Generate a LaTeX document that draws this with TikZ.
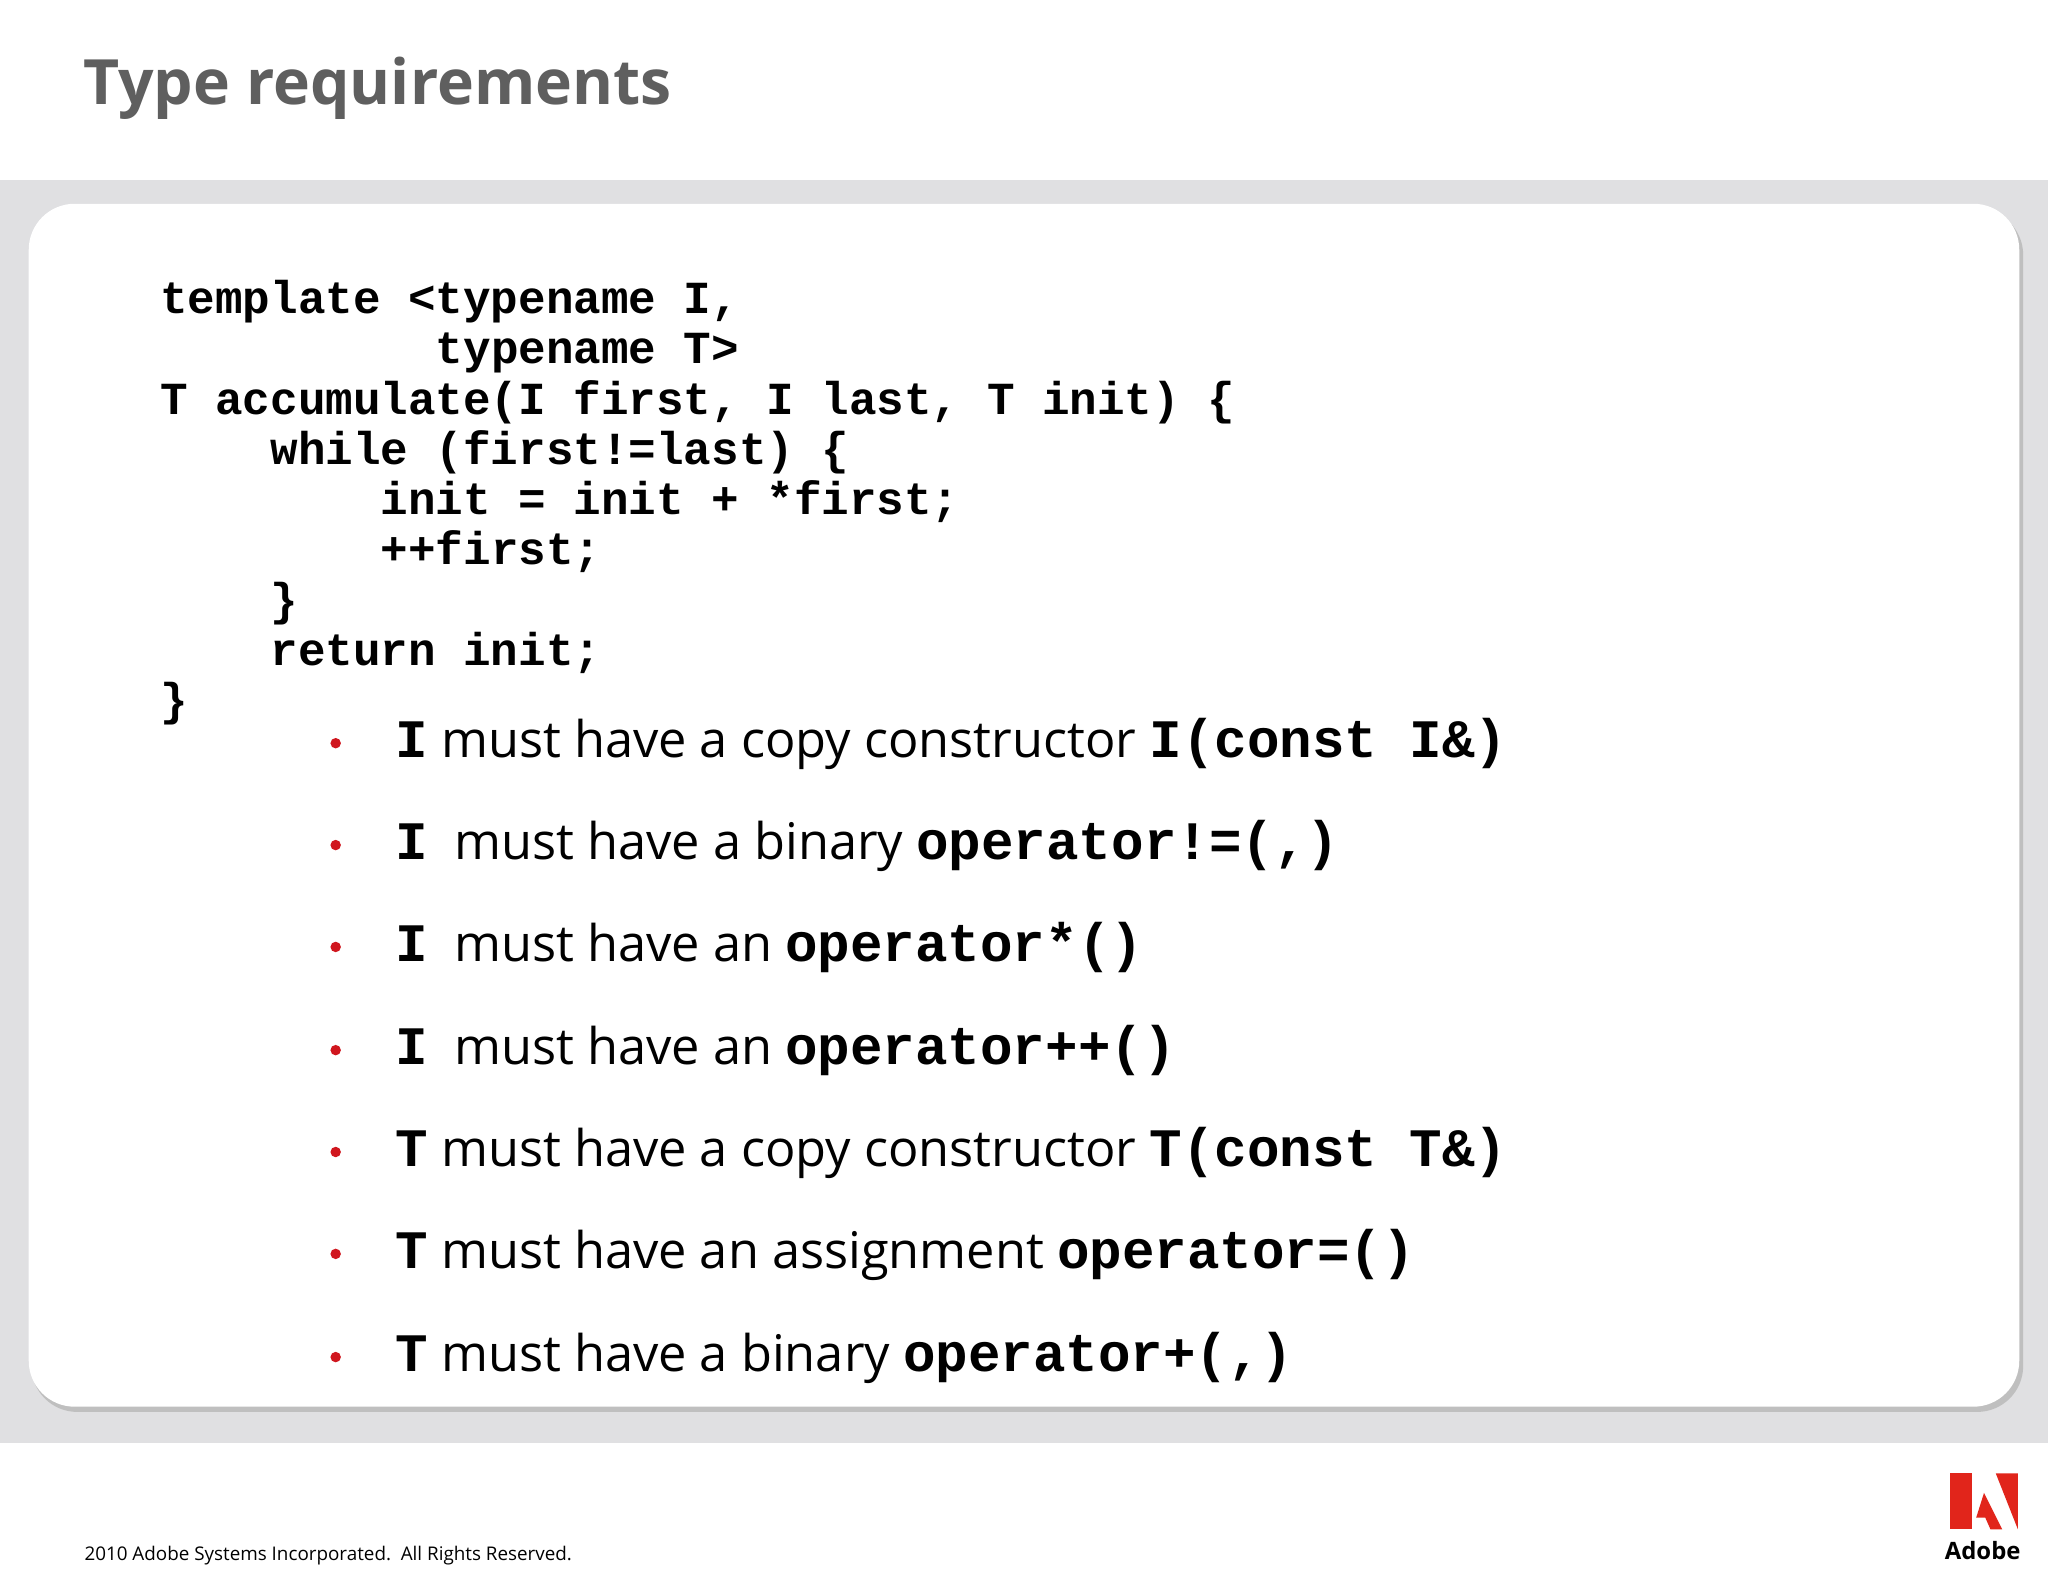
\documentclass[tikz,border=0pt]{standalone}
\usepackage{fontspec}
\setmainfont{Open Sans}
\newfontfamily\codef{Liberation Mono}[BoldFont={Liberation Mono Bold}]
\definecolor{bandgrey}{HTML}{E0E0E2}
\definecolor{titlegrey}{HTML}{5F5F5F}
\definecolor{bulletred}{HTML}{D0161E}
\definecolor{adobered}{HTML}{E1251B}
\tikzset{
  codeline/.style={anchor=base west,inner sep=0pt,font=\codef\bfseries\fontsize{10}{12}\selectfont},
  bline/.style={anchor=base west,inner sep=0pt,font=\fontsize{11}{13}\selectfont},
  bdot/.style={circle,fill=bulletred,inner sep=0pt,minimum size=0.08cm},
}
\newcommand{\mc}[1]{{\codef\bfseries\fontsize{11.8}{13}\selectfont #1}}
\begin{document}
\begin{tikzpicture}[x=0.01cm,y=-0.01cm]
\useasboundingbox (0,0) rectangle (1568,1211);
\fill[white] (0,0) rectangle (1568,1211);
\fill[bandgrey] (0,138) rectangle (1568,1105);
\fill[black!25,rounded corners=10] (24,160) rectangle (1549,1081);
\fill[white,rounded corners=10] (22,156) rectangle (1546,1077);
\node[anchor=base west,inner sep=0pt,text=titlegrey,font=\bfseries\fontsize{13.6}{16}\selectfont] (title) at (63,80) {Type requirements};
% code
\node[codeline] (c1) at (122,240) {template <typename I,};
\node[codeline] (c2) at (122,278.5) {\phantom{template <}typename T>};
\node[codeline] (c3) at (122,317) {T accumulate(I first, I last, T init) \{};
\node[codeline] (c4) at (122,355.5) {\phantom{1234}while (first!=last) \{};
\node[codeline] (c5) at (122,394) {\phantom{12345678}init = init + *first;};
\node[codeline] (c6) at (122,432.5) {\phantom{12345678}++first;};
\node[codeline] (c7) at (122,471) {\phantom{1234}\}};
\node[codeline] (c8) at (122,509.5) {\phantom{1234}return init;};
\node[codeline] (c9) at (122,548) {\}};
% bullets
\foreach \y/\n in {580/1,658/2,736/3,815/4,893/5,971/6,1050/7}
  \node[bdot] (d\n) at (257,\y-11) {};
\node[bline] (b1) at (302,580) {\mc{I} must have a copy constructor \mc{I(const I\&)}};
\node[bline] (b2) at (302,658) {\mc{I} \ must have a binary \mc{operator!=(,)}};
\node[bline] (b3) at (302,736) {\mc{I} \ must have an \mc{operator*()}};
\node[bline] (b4) at (302,815) {\mc{I} \ must have an \mc{operator++()}};
\node[bline] (b5) at (302,893) {\mc{T} must have a copy constructor \mc{T(const T\&)}};
\node[bline] (b6) at (302,971) {\mc{T} must have an assignment \mc{operator=()}};
\node[bline] (b7) at (302,1050) {\mc{T} must have a binary \mc{operator+(,)}};
% footer
\node[anchor=base west,inner sep=0pt,font=\fontsize{4.1}{5}\selectfont] (foot) at (64,1195) {2010 Adobe Systems Incorporated.\ \ All Rights Reserved.};
% logo
\fill[adobered] (1493,1128) -- (1510,1128) -- (1510,1171) -- (1493,1171) -- cycle;
\fill[adobered] (1528,1128) -- (1545,1128) -- (1545,1171) -- cycle;
\fill[adobered] (1519,1143) -- (1533,1171) -- (1524,1171) -- (1520,1162) -- (1513,1162) -- cycle;
\node[anchor=base,inner sep=0pt,font=\bfseries\fontsize{5.2}{6}\selectfont] (adobe) at (1518,1194) {Adobe};
\end{tikzpicture}
\end{document}
